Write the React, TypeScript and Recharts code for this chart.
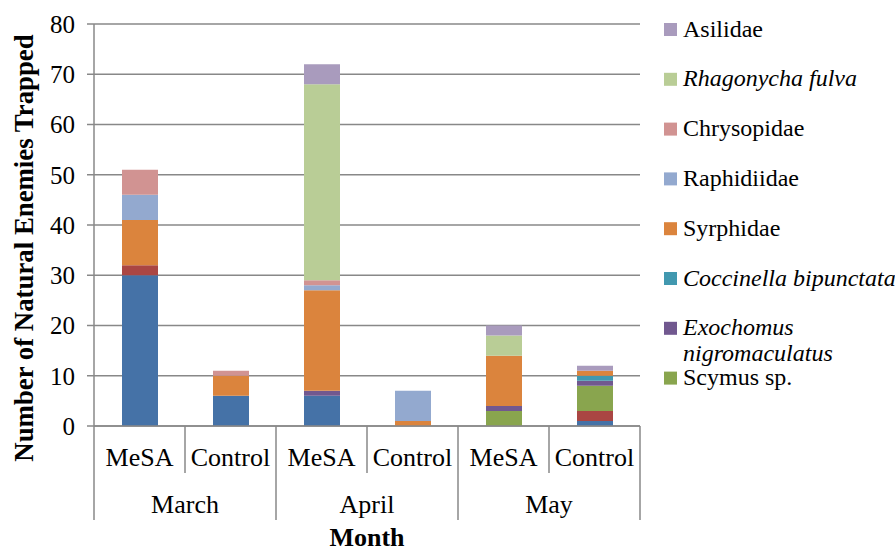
import { BarChart, Bar, XAxis, YAxis, CartesianGrid } from 'recharts';

const treatments = ['MeSA', 'Control', 'MeSA', 'Control', 'MeSA', 'Control'];
const months = ['March', 'March', 'April', 'April', 'May', 'May'];
const yTicks = [0, 10, 20, 30, 40, 50, 60, 70, 80];

// stacked bottom -> top
const unlistedBlue = [30, 6, 6, 0, 0, 1];
const unlistedRed = [2, 0, 0, 0, 0, 2];
const scymus = [0, 0, 0, 0, 3, 5];
const exochomus = [0, 0, 1, 0, 1, 1];
const coccinella = [0, 0, 0, 0, 0, 1];
const syrphidae = [9, 4, 20, 1, 10, 1];
const raphidiidae = [5, 0, 1, 6, 0, 0];
const chrysopidae = [5, 1, 1, 0, 0, 0];
const rhagonycha = [0, 0, 39, 0, 4, 0];
const asilidae = [0, 0, 4, 0, 2, 1];

const series = [
  { key: 'unlistedBlue', name: 'Series 1', values: unlistedBlue, color: '#4572A7' },
  { key: 'unlistedRed', name: 'Series 2', values: unlistedRed, color: '#AA4643' },
  { key: 'scymus', name: 'Scymus sp.', values: scymus, color: '#89A54E' },
  { key: 'exochomus', name: 'Exochomus nigromaculatus', values: exochomus, color: '#71588F' },
  { key: 'coccinella', name: 'Coccinella bipunctata', values: coccinella, color: '#4198AF' },
  { key: 'syrphidae', name: 'Syrphidae', values: syrphidae, color: '#DB843D' },
  { key: 'raphidiidae', name: 'Raphidiidae', values: raphidiidae, color: '#93A9CF' },
  { key: 'chrysopidae', name: 'Chrysopidae', values: chrysopidae, color: '#D19392' },
  { key: 'rhagonycha', name: 'Rhagonycha fulva', values: rhagonycha, color: '#B9CD96' },
  { key: 'asilidae', name: 'Asilidae', values: asilidae, color: '#A99BBD' },
];

// legend, top -> bottom, as shown
const legendItems = [
  { key: 'asilidae', lines: ['Asilidae'], italic: false },
  { key: 'rhagonycha', lines: ['Rhagonycha fulva'], italic: true },
  { key: 'chrysopidae', lines: ['Chrysopidae'], italic: false },
  { key: 'raphidiidae', lines: ['Raphidiidae'], italic: false },
  { key: 'syrphidae', lines: ['Syrphidae'], italic: false },
  { key: 'coccinella', lines: ['Coccinella bipunctata'], italic: true },
  { key: 'exochomus', lines: ['Exochomus', 'nigromaculatus'], italic: true },
  { key: 'scymus', lines: ['Scymus sp.'], italic: false },
];

const data = treatments.map((t, i) => {
  const row: any = { treatment: t, month: months[i] };
  series.forEach((s) => (row[s.key] = s.values[i]));
  return row;
});

const FONT = '"Times New Roman", "Liberation Serif", "DejaVu Serif", serif';
const GRID = '#888888';
const W = 895;
const H = 551;
const M = { top: 24, right: 255, bottom: 0, left: 0 };
const Y_AXIS_W = 94;
const X_AXIS_H = 125;
const PLOT_W = W - M.right - M.left - Y_AXIS_W;
const AXIS_Y = H - X_AXIS_H;
const BAND = PLOT_W / treatments.length;

const XTick = (props: any) => {
  const { payload, index } = props;
  const x = payload.coordinate;
  const left = x - BAND / 2;
  const monthStart = index % 2 === 0;
  const last = index === treatments.length - 1;
  return (
    <g>
      <line x1={left} x2={left} y1={AXIS_Y} y2={monthStart ? AXIS_Y + 94 : AXIS_Y + 47} stroke={GRID} strokeWidth={1.5} />
      {last && <line x1={left + BAND} x2={left + BAND} y1={AXIS_Y} y2={AXIS_Y + 94} stroke={GRID} strokeWidth={1.5} />}
      <text x={x} y={AXIS_Y + 40} textAnchor="middle" fontFamily={FONT} fontSize={26} fill="#000">
        {payload.value}
      </text>
      {monthStart && (
        <text x={left + BAND} y={AXIS_Y + 87} textAnchor="middle" fontFamily={FONT} fontSize={26} fill="#000">
          {months[index]}
        </text>
      )}
    </g>
  );
};

const YTitle = () => (
  <text
    x={33}
    y={248}
    transform="rotate(-90, 33, 248)"
    textAnchor="middle"
    fontFamily={FONT}
    fontWeight="bold"
    fontSize={26.8}
    fill="#000"
  >
    Number of Natural Enemies Trapped
  </text>
);

const XTitle = () => (
  <text x={Y_AXIS_W + PLOT_W / 2} y={546} textAnchor="middle" fontFamily={FONT} fontWeight="bold" fontSize={26} fill="#000">
    Month
  </text>
);

const colorOf = (key: string) => series.find((s) => s.key === key)!.color;

const LegendBox = () => (
  <svg width={W} height={H} style={{ position: 'absolute', left: 0, top: 0, pointerEvents: 'none' }}>
    {legendItems.map((item, i) => {
      const cy = 29.5 + i * 49.8;
      return (
        <g key={item.key}>
          <rect x={664} y={cy - 6.5} width={13} height={13} fill={colorOf(item.key)} />
          {item.lines.map((ln, j) => (
            <text
              key={j}
              x={683}
              y={cy + 7 + j * 25.5}
              fontFamily={FONT}
              fontSize={24}
              fontStyle={item.italic ? 'italic' : 'normal'}
              fill="#000"
            >
              {ln}
            </text>
          ))}
        </g>
      );
    })}
  </svg>
);

export default function App() {
  return (
    <div style={{ position: 'absolute', left: 0, top: 0, width: W, height: H, background: '#fff', fontFamily: FONT }}>
      <BarChart width={W} height={H} data={data} margin={M} barSize={36}>
        <CartesianGrid vertical={false} stroke={GRID} strokeWidth={1.5} />
        <XAxis
          dataKey="treatment"
          interval={0}
          height={X_AXIS_H}
          tickLine={false}
          axisLine={{ stroke: GRID, strokeWidth: 1.5 }}
          tick={<XTick />}
          label={<XTitle />}
        />
        <YAxis
          width={Y_AXIS_W}
          domain={[0, 80]}
          ticks={yTicks}
          interval={0}
          tickSize={7}
          tickMargin={12}
          tickLine={{ stroke: GRID, strokeWidth: 1.5 }}
          axisLine={{ stroke: GRID, strokeWidth: 1.5 }}
          tick={{ fontFamily: FONT, fontSize: 25, fill: '#000' }}
          label={<YTitle />}
        />
        {series.map((s) => (
          <Bar key={s.key} dataKey={s.key} name={s.name} stackId="a" fill={s.color} isAnimationActive={false} />
        ))}
      </BarChart>
      <LegendBox />
    </div>
  );
}
